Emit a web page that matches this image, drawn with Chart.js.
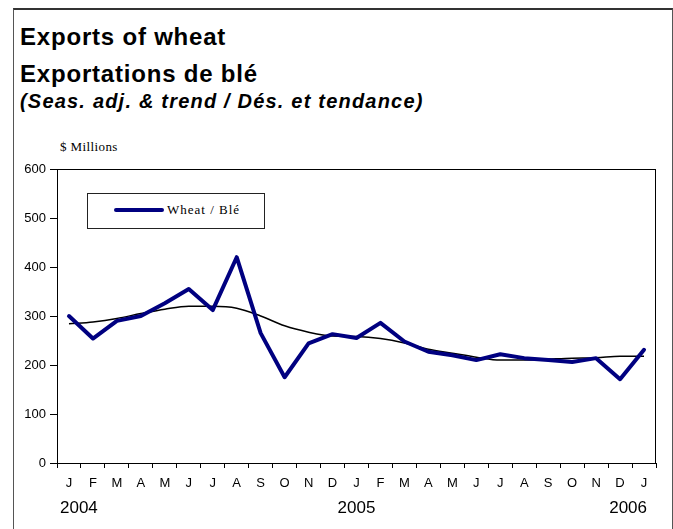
<!DOCTYPE html>
<html>
<head>
<meta charset="utf-8">
<script src="https://cdn.jsdelivr.net/npm/chart.js@4"></script>
<style>
  body { margin: 0; background: #fff; font-family: Arial, "Liberation Sans", sans-serif; }
  .frame { position: absolute; left: 13px; top: 8px; width: 658px; height: 540px; border: 1px solid #555; border-top: 2px solid #333; }
  .title { position: absolute; left: 20px; font-weight: bold; color: #000; white-space: nowrap; }
  .t1 { top: 23px; font-size: 24px; letter-spacing: 0.8px; }
  .t2 { top: 60px; font-size: 24px; letter-spacing: 0.8px; }
  .t3 { top: 90px; font-size: 20px; font-style: italic; letter-spacing: 1.2px; }
  .unit { position: absolute; left: 60px; top: 139px; font: 13px "Liberation Serif", "Times New Roman", serif; letter-spacing: 0.4px; }
  .legend { position: absolute; left: 87px; top: 193px; width: 176px; height: 34px; border: 1px solid #222; background: #fff; }
  .legend .swatch { position: absolute; left: 26px; top: 14px; width: 50px; height: 4px; border-radius: 2px; background: #000080; }
  .legend .label { position: absolute; left: 79px; top: 8px; font: 13px "Liberation Serif", "Times New Roman", serif; letter-spacing: 1px; }
  #wrap { position: absolute; left: 0; top: 0; width: 673px; height: 529px; }
</style>
</head>
<body>
<div class="frame"></div>
<div class="title t1">Exports of wheat</div>
<div class="title t2">Exportations de blé</div>
<div class="title t3">(Seas. adj. &amp; trend / Dés. et tendance)</div>
<div class="unit">$ Millions</div>
<div id="wrap"><canvas id="myChart" width="673" height="529"></canvas></div>
<div class="legend"><span class="swatch"></span><span class="label">Wheat / Blé</span></div>
<script>
// data, Jan 2004 to Jan 2006
const months = ['J','F','M','A','M','J','J','A','S','O','N','D',
                'J','F','M','A','M','J','J','A','S','O','N','D','J'];
const wheat = [300, 254, 290, 300, 326, 355, 312, 420, 265, 175, 244, 263,
               255, 286, 248, 227, 220, 210, 222, 214, 210, 206, 214, 171, 231];
const trend = [284, 288, 295, 305, 314, 320, 320, 316, 300, 280, 267, 259,
               258, 254, 245, 232, 224, 216, 210, 210, 212, 214, 215, 218, 218];
const yTicks = [0, 100, 200, 300, 400, 500, 600];
const years = ['2004', '2005', '2006'];
const yearIndex = [0, 12, 24];

const axisFont = { family: 'Arial, "Liberation Sans", sans-serif', size: 13 };

// box round the plot area
const plotBox = {
  id: 'plotBox',
  afterDraw: (chart) => {
    const { ctx, chartArea } = chart;
    ctx.save();
    ctx.strokeStyle = '#000';
    ctx.lineWidth = 1;
    ctx.strokeRect(chartArea.left + 0.5, chartArea.top + 0.5, chartArea.width - 1, chartArea.height);
    ctx.restore();
  }
};

// year labels under the month letters
const yearLabels = {
  id: 'yearLabels',
  afterDraw: (chart) => {
    const { ctx } = chart;
    const xScale = chart.scales.x;
    ctx.save();
    ctx.font = '17px Arial, "Liberation Sans", sans-serif';
    ctx.fillStyle = '#000';
    ctx.textBaseline = 'middle';
    years.forEach((yr, i) => {
      const x = xScale.getPixelForValue(yearIndex[i]);
      if (i === 0) { ctx.textAlign = 'left'; ctx.fillText(yr, x - 9, xScale.top + 45); }
      else if (i === years.length - 1) { ctx.textAlign = 'right'; ctx.fillText(yr, x + 3, xScale.top + 45); }
      else { ctx.textAlign = 'center'; ctx.fillText(yr, x, xScale.top + 45); }
    });
    ctx.restore();
  }
};

const config = {
  type: 'line',
  data: {
    labels: months,
    datasets: [
      {
        label: 'Wheat / Blé',
        data: wheat,
        borderColor: '#000080',
        borderWidth: 4,
        pointRadius: 0,
        tension: 0,
        borderJoinStyle: 'round',
        borderCapStyle: 'round'
      },
      {
        label: 'Trend',
        data: trend,
        borderColor: '#000',
        borderWidth: 1.5,
        pointRadius: 0,
        cubicInterpolationMode: 'monotone'
      }
    ]
  },
  options: {
    responsive: false,
    animation: false,
    layout: { padding: { left: 0, right: 17, top: 169, bottom: 0 } },
    scales: {
      x: {
        offset: true,
        afterFit: (scale) => { scale.height = 66; },
        grid: { offset: true, drawOnChartArea: false, color: '#000', tickLength: 5 },
        border: { color: '#000' },
        ticks: { autoSkip: false, maxRotation: 0, padding: 8, color: '#000', font: axisFont }
      },
      y: {
        min: 0,
        max: 600,
        afterFit: (scale) => { scale.width = 57; },
        afterBuildTicks: (scale) => { scale.ticks = yTicks.map(v => ({ value: v })); },
        grid: { drawOnChartArea: false, color: '#000', tickLength: 7 },
        border: { color: '#000' },
        ticks: { padding: 4, color: '#000', font: axisFont }
      }
    },
    plugins: {
      legend: { display: false },
      title: { display: false },
      tooltip: { enabled: false }
    }
  },
  plugins: [plotBox, yearLabels]
};

var myChart = new Chart(document.getElementById('myChart'), config);
</script>
</body>
</html>
